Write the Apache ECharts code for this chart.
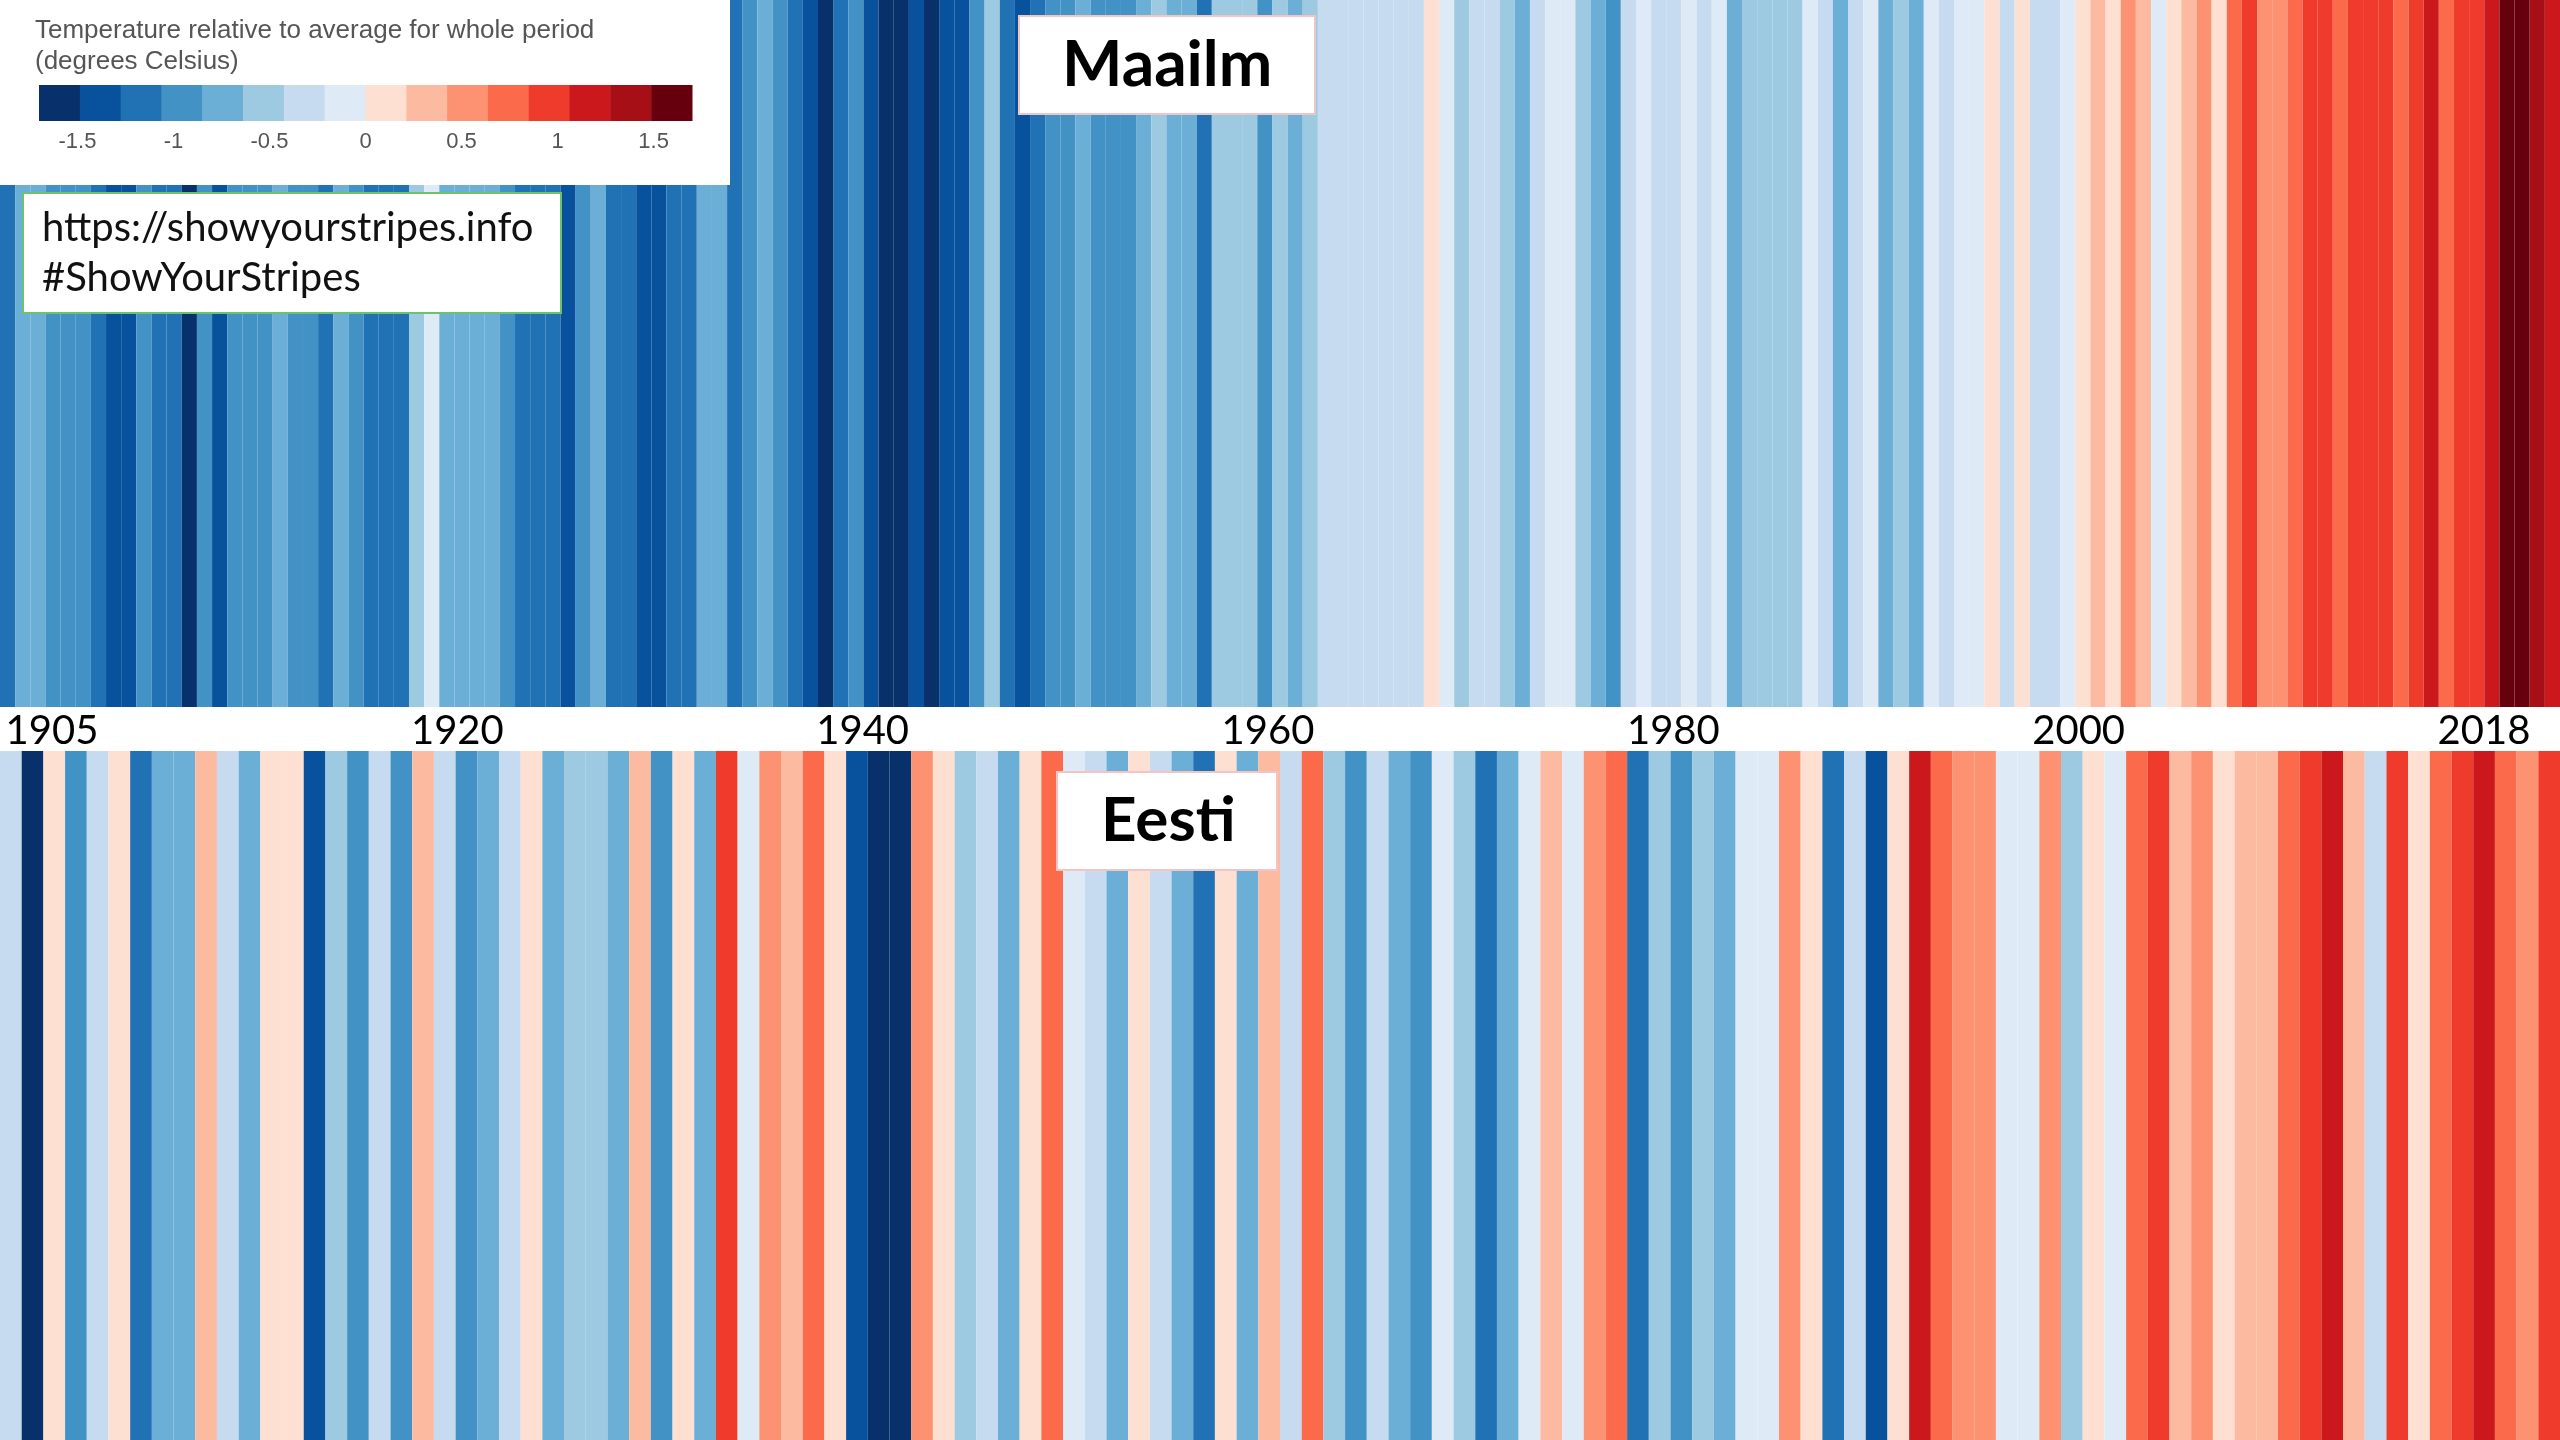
<!DOCTYPE html>
<html><head><meta charset="utf-8">
<script src="https://cdn.jsdelivr.net/npm/echarts@6/dist/echarts.min.js"></script>
<style>html,body{margin:0;padding:0;background:#fff;overflow:hidden}#c{width:2560px;height:1440px}</style>
</head><body><div id="c"></div>
<script>
// ---- data ----
const palette = ['#08306b','#08519c','#2171b5','#4292c6','#6baed6','#9ecae1','#c6dbef','#deebf7',
                 '#fee0d2','#fcbba1','#fc9272','#fb6a4a','#ef3b2c','#cb181d','#a50f15','#67000d'];
const scaleMin = -1.7, scaleMax = 1.7;
const legendTicks = [-1.5, -1, -0.5, 0, 0.5, 1, 1.5];
const yearTickLabels = ['1905','1920','1940','1960','1980','2000','2018'];

const worldYears = []; for (let y = 1850; y <= 2018; y++) worldYears.push(String(y));
const eestiYears = []; for (let y = 1901; y <= 2018; y++) eestiYears.push(String(y));

const worldTemps = [
 -1.2,-0.75,-0.75,-0.95,-0.95,-0.95,-1.2,-1.4,-1.4,-0.95,
 -1.2,-1.2,-1.6,-0.95,-1.4,-0.95,-0.95,-0.95,-0.75,-0.95,
 -0.95,-1.2,-0.75,-0.95,-1.2,-1.2,-1.2,-0.55,-0.1,-0.75,
 -0.75,-0.75,-0.75,-0.95,-1.2,-1.2,-1.2,-1.4,-0.95,-0.75,
 -1.2,-1.2,-1.4,-1.4,-1.2,-1.2,-0.75,-0.75,-1.2,-0.95,
 -0.75,-0.95,-1.2,-1.4,-1.6,-1.2,-0.95,-1.4,-1.6,-1.6,
 -1.4,-1.6,-1.4,-1.4,-0.95,-0.55,-1.2,-1.4,-1.2,-0.95,
 -0.95,-0.75,-0.95,-0.95,-0.95,-0.75,-0.55,-0.75,-0.75,-1.2,
 -0.55,-0.55,-0.55,-0.95,-0.55,-0.75,-0.55,-0.3,-0.3,-0.3,
 -0.3,-0.3,-0.3,-0.3,0.1,-0.1,-0.55,-0.3,-0.3,-0.55,
 -0.75,-0.3,-0.1,-0.1,-0.55,-0.75,-0.95,-0.3,-0.1,-0.3,
 -0.3,-0.1,-0.3,-0.1,-0.75,-0.55,-0.55,-0.55,-0.55,-0.1,
 -0.3,-0.75,-0.3,-0.1,-0.75,-0.55,-0.75,-0.1,-0.3,-0.1,
 -0.1,0.1,-0.3,0.1,-0.3,-0.3,-0.1,0.1,0.3,0.1,
 0.55,0.3,-0.1,0.1,0.3,0.55,0.1,0.75,0.95,0.55,
 0.55,0.75,0.95,0.95,0.75,0.95,0.95,0.95,0.75,0.95,
 1.2,0.75,0.95,0.95,1.2,1.6,1.6,1.4,1.2
];
const eestiTemps = [
 -0.3,-1.6,0.1,-0.95,-0.3,0.1,-1.2,-0.75,-0.75,0.3,
 -0.3,-0.75,0.1,0.1,-1.4,-0.55,-0.95,-0.3,-0.95,0.3,
 -0.3,-0.95,-0.75,-0.3,0.1,-0.75,-0.55,-0.55,-0.75,0.3,
 -0.95,0.1,-0.75,0.95,-0.1,0.55,0.3,0.75,0.1,-1.4,
 -1.6,-1.6,0.55,0.1,-0.55,-0.3,-0.75,0.1,0.75,-0.1,
 -0.3,-0.75,0.1,-0.3,-0.75,-1.2,0.1,-0.75,0.3,-0.3,
 0.75,-0.55,-0.95,-0.3,-0.75,-0.95,-0.1,-0.55,-1.2,-0.75,
 -0.1,0.3,-0.1,0.55,0.75,-1.2,-0.55,-0.95,-0.55,-0.75,
 -0.1,-0.1,0.55,0.1,-1.2,-0.3,-1.4,0.1,1.2,0.75,
 0.55,0.55,-0.1,-0.1,0.55,-0.55,0.1,-0.1,0.75,0.95,
 0.3,0.55,0.1,0.3,0.3,0.75,0.95,1.2,0.3,-0.3,
 0.95,0.1,0.75,0.95,1.2,0.75,0.55,0.95
];

// ---- build ----
const binW = (scaleMax - scaleMin) / palette.length;
const pieces = palette.map((c, i) => {
  const p = { color: c };
  if (i > 0) p.gte = scaleMin + i * binW;
  if (i < palette.length - 1) p.lt = scaleMin + (i + 1) * binW;
  return p;
});
const legendCells = palette.map((c, i) => [scaleMin + i * binW, scaleMin + (i + 1) * binW, i]);

const chart = echarts.init(document.getElementById('c'), null, { renderer: 'canvas' });
const hiddenCat = (data, grid) => ({ type: 'category', data, gridIndex: grid, show: false, boundaryGap: true });
const hiddenVal = (grid) => ({ type: 'value', gridIndex: grid, min: 0, max: 1, show: false });

const option = {
  backgroundColor: '#ffffff',
  animation: false,
  grid: [
    { left: 0, right: 0, top: 0, height: 707 },
    { left: 0, right: 0, top: 751, bottom: 0 },
    { left: 52, width: 2432, top: 708, height: 1 },
    { left: 39, width: 653, top: 85, height: 36 }
  ],
  xAxis: [
    hiddenCat(worldYears, 0),
    hiddenCat(eestiYears, 1),
    { type: 'category', gridIndex: 2, data: yearTickLabels, boundaryGap: false,
      axisLine: { show: false }, axisTick: { show: false }, splitLine: { show: false },
      axisLabel: { interval: 0, margin: 2, color: '#000', fontSize: 40, fontFamily: 'Lato', verticalAlign: 'top' } },
    { type: 'value', gridIndex: 3, min: scaleMin, max: scaleMax, z: 20,
      axisLine: { show: false }, axisTick: { show: false }, splitLine: { show: false },
      axisLabel: { customValues: legendTicks, margin: 10, color: '#555', fontSize: 22, fontFamily: 'Liberation Sans',
        formatter: v => String(v) } }
  ],
  yAxis: [hiddenVal(0), hiddenVal(1), hiddenVal(2), hiddenVal(3)],
  visualMap: [{
    type: 'piecewise', show: false, dimension: 2, seriesIndex: [0, 1], pieces
  }],
  graphic: [
    { type: 'rect', z: 10, shape: { x: 0, y: 0, width: 730, height: 185 }, style: { fill: '#ffffff' } }
  ],
  title: [
    { text: 'Temperature relative to average for whole period\n(degrees Celsius)', left: 30, top: 10, z: 12,
      textStyle: { fontSize: 26, fontWeight: 'normal', color: '#555', fontFamily: 'Liberation Sans', lineHeight: 31 } },
    { text: 'https://showyourstripes.info\n#ShowYourStripes', left: 23, top: 193, z: 12,
      padding: [10, 28, 10, 19], backgroundColor: '#ffffff', borderColor: '#6cc36c', borderWidth: 2,
      textStyle: { fontSize: 40, fontWeight: 'normal', color: '#111', fontFamily: 'Lato', lineHeight: 50 } },
    { text: 'Maailm', left: 1019, top: 16, z: 12,
      padding: [14, 43, 14, 43], backgroundColor: '#ffffff', borderColor: '#f2c4c4', borderWidth: 2,
      textStyle: { fontSize: 64, fontWeight: 'bold', color: '#000', fontFamily: 'Lato', lineHeight: 70 } },
    { text: 'Eesti', left: 1057, top: 772, z: 12,
      padding: [14, 42, 14, 44], backgroundColor: '#ffffff', borderColor: '#f2c4c4', borderWidth: 2,
      textStyle: { fontSize: 62, fontWeight: 'bold', color: '#000', fontFamily: 'Lato', lineHeight: 70 } }
  ],
  series: [
    { type: 'bar', xAxisIndex: 0, yAxisIndex: 0, barWidth: '100%', barCategoryGap: '0%', silent: true,
      data: worldTemps.map((t, i) => [worldYears[i], 1, t]) },
    { type: 'bar', xAxisIndex: 1, yAxisIndex: 1, barWidth: '100%', barCategoryGap: '0%', silent: true,
      data: eestiTemps.map((t, i) => [eestiYears[i], 1, t]) },
    { type: 'custom', xAxisIndex: 3, yAxisIndex: 3, z: 11, silent: true, data: legendCells,
      renderItem: (params, api) => {
        const p0 = api.coord([api.value(0), 1]);
        const p1 = api.coord([api.value(1), 0]);
        return { type: 'rect', shape: { x: p0[0], y: p0[1], width: p1[0] - p0[0] + 0.5, height: p1[1] - p0[1] },
          style: { fill: palette[api.value(2)] } };
      } }
  ]
};
chart.setOption(option);
</script></body></html>
